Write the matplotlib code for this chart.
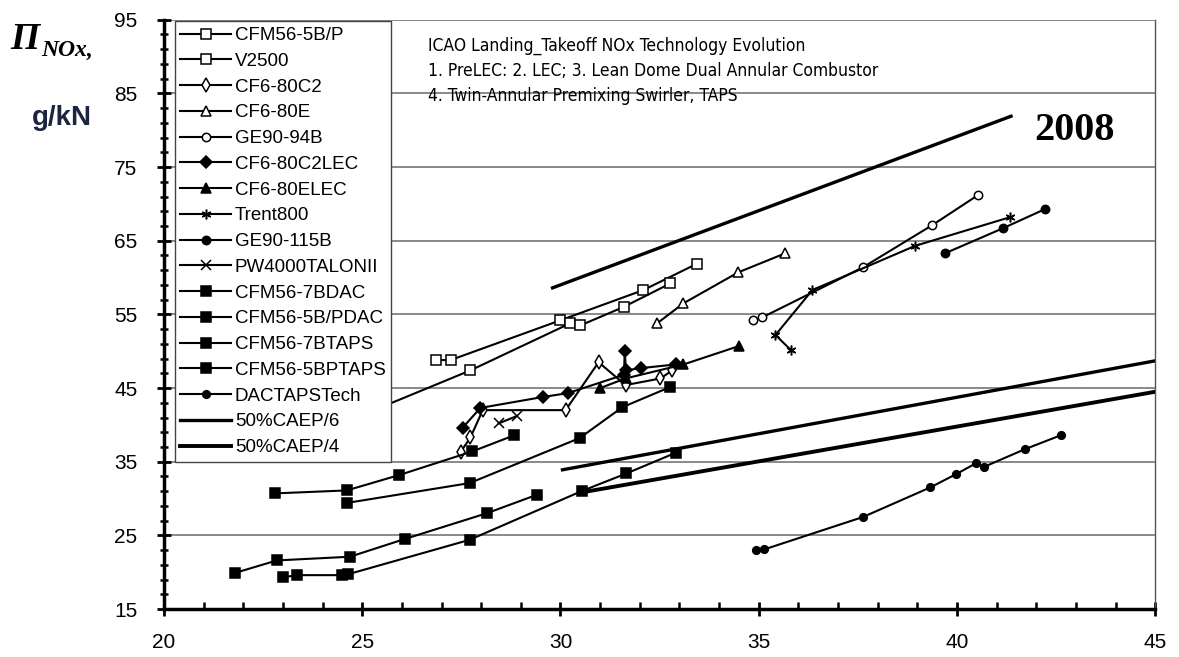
import numpy as np
import matplotlib
matplotlib.use("Agg")
import matplotlib.pyplot as plt
from matplotlib.ticker import MultipleLocator

# data (x: pressure ratio, y: NOx g/kN)
cfm565bp_x = [26.85, 27.23, 30.0, 32.09, 33.45]
cfm565bp_y = [48.8, 48.8, 54.2, 58.3, 61.9]
v2500_x = [25.3, 27.73, 30.25, 30.5, 31.59, 32.77]
v2500_y = [42.0, 47.4, 53.8, 53.5, 56.0, 59.2]
cf680c2_x = [27.48, 27.73, 28.04, 30.13, 30.96, 31.64, 32.52, 32.82]
cf680c2_y = [36.3, 38.3, 42.0, 42.0, 48.5, 45.4, 46.3, 47.4]
cf680e_x = [32.44, 33.1, 34.48, 35.67]
cf680e_y = [53.8, 56.5, 60.7, 63.3]
ge9094b_x = [34.86, 35.09, 37.63, 39.37, 40.53]
ge9094b_y = [54.2, 54.6, 61.4, 67.1, 71.2]
cf680c2lec_x = [27.53, 27.98, 29.57, 30.18, 31.6, 31.62, 31.65, 32.02, 32.9]
cf680c2lec_y = [39.6, 42.3, 43.8, 44.3, 46.8, 50.0, 47.4, 47.7, 48.2]
cf680elec_x = [31.0, 31.64, 33.1, 34.5]
cf680elec_y = [45.0, 46.3, 48.2, 50.7]
trent800_x = [35.82, 35.42, 36.35, 38.94, 41.34]
trent800_y = [50.1, 52.2, 58.3, 64.3, 68.2]
ge90115b_x = [39.7, 41.16, 42.22]
ge90115b_y = [63.3, 66.7, 69.3]
pw4000_x = [28.44, 28.9]
pw4000_y = [40.2, 41.2]
cfm567bdac_x = [22.8, 24.61, 25.94, 27.78, 28.84]
cfm567bdac_y = [30.7, 31.1, 33.2, 36.4, 38.6]
cfm565bpdac_x = [24.61, 27.71, 30.48, 31.56, 32.75]
cfm565bpdac_y = [29.4, 32.1, 38.2, 42.4, 45.1]
cfm567btaps_x = [21.79, 22.85, 24.69, 26.07, 28.14, 29.4]
cfm567btaps_y = [19.9, 21.6, 22.1, 24.5, 28.0, 30.5]
cfm565bptaps_x = [23.0, 23.35, 24.48, 24.63, 27.71, 30.53, 31.66, 32.9]
cfm565bptaps_y = [19.3, 19.6, 19.6, 19.7, 24.4, 31.0, 33.4, 36.2]
dactaps_x = [34.94, 35.14, 37.63, 39.32, 39.97, 40.48, 40.68, 41.71, 42.62]
dactaps_y = [23.0, 23.1, 27.5, 31.5, 33.3, 34.8, 34.3, 36.7, 38.6]
caep6_x = [30.05, 45.0]
caep6_y = [33.9, 48.7]
caep4_x = [30.5, 45.0]
caep4_y = [30.8, 44.5]
line2008_x = [29.8, 41.36]
line2008_y = [58.6, 81.9]

y_ticks = [15, 25, 35, 45, 55, 65, 75, 85, 95]

series = [
    ("CFM56-5B/P", cfm565bp_x, cfm565bp_y, "s", "white"),
    ("V2500", v2500_x, v2500_y, "s", "white"),
    ("CF6-80C2", cf680c2_x, cf680c2_y, "d", "white"),
    ("CF6-80E", cf680e_x, cf680e_y, "^", "white"),
    ("GE90-94B", ge9094b_x, ge9094b_y, "o", "white"),
    ("CF6-80C2LEC", cf680c2lec_x, cf680c2lec_y, "D", "black"),
    ("CF6-80ELEC", cf680elec_x, cf680elec_y, "^", "black"),
    ("Trent800", trent800_x, trent800_y, (6, 2, 0), "black"),
    ("GE90-115B", ge90115b_x, ge90115b_y, "o", "black"),
    ("PW4000TALONII", pw4000_x, pw4000_y, "x", "black"),
    ("CFM56-7BDAC", cfm567bdac_x, cfm567bdac_y, "s", "black"),
    ("CFM56-5B/PDAC", cfm565bpdac_x, cfm565bpdac_y, "s", "black"),
    ("CFM56-7BTAPS", cfm567btaps_x, cfm567btaps_y, "s", "black"),
    ("CFM56-5BPTAPS", cfm565bptaps_x, cfm565bptaps_y, "s", "black"),
    ("DACTAPSTech", dactaps_x, dactaps_y, "o", "black"),
]

fig = plt.figure(figsize=(11.79, 6.57), dpi=100)
ax = fig.add_axes([0.139, 0.073, 0.841, 0.897])

for name, xs, ys, mk, fc in series:
    ms = 6 if mk in ("o", "D") else 7
    if name == "DACTAPSTech":
        ms = 5.5
    ax.plot(xs, ys, color="black", lw=1.5, marker=mk, ms=ms,
            mfc=fc, mec="black", mew=1.1, label=name, zorder=3)

ax.plot(caep6_x, caep6_y, color="black", lw=2.4, label="50%CAEP/6", zorder=3)
ax.plot(caep4_x, caep4_y, color="black", lw=2.8, label="50%CAEP/4", zorder=3)
ax.plot(line2008_x, line2008_y, color="black", lw=2.4, zorder=3)

ax.set_xlim(20, 45)
ax.set_ylim(15, 95)
ax.xaxis.set_major_locator(MultipleLocator(5))
ax.xaxis.set_minor_locator(MultipleLocator(1))
ax.set_yticks(y_ticks)
ax.set_yticks([v for v in range(17, 95, 2) if v not in y_ticks], minor=True)
ax.grid(axis="y", which="major", color="#808080", lw=1.3)
ax.set_axisbelow(True)

ax.spines["top"].set_visible(False)
ax.spines["right"].set_linewidth(1.0)
ax.spines["right"].set_color("#555555")
ax.spines["left"].set_linewidth(2.5)
ax.spines["bottom"].set_linewidth(2.5)
ax.tick_params(which="major", direction="inout", length=10, width=2, labelsize=15)
ax.tick_params(which="minor", direction="in", length=5, width=1.8)
ax.tick_params(axis="y", which="minor", direction="inout", length=6)
ax.tick_params(right=False, which="both")
ax.tick_params(axis="x", which="major", pad=12)
ax.tick_params(axis="y", which="major", pad=14)
for lab in ax.get_xticklabels() + ax.get_yticklabels():
    lab.set_family("Liberation Sans")

leg = ax.legend(loc="upper left", bbox_to_anchor=(0.011, 0.997),
                frameon=True, fancybox=False, edgecolor="#444444", framealpha=1,
                handlelength=2.7, handletextpad=0.2, labelspacing=0.46,
                borderpad=0.3, borderaxespad=0,
                prop={"family": "Liberation Sans", "size": 13.5})
leg.get_frame().set_linewidth(1.0)
leg.set_zorder(5)

ax.text(26.65, 92.7, "ICAO Landing_Takeoff NOx Technology Evolution\n"
        "1. PreLEC: 2. LEC; 3. Lean Dome Dual Annular Combustor\n"
        "4. Twin-Annular Premixing Swirler, TAPS",
        fontsize=12.5, family="DejaVu Sans", fontstretch="condensed",
        va="top", ha="left", linespacing=1.52, zorder=6)

ax.text(42.95, 80.0, "2008", fontsize=29, fontweight="bold",
        family="Liberation Serif", ha="center", va="center", zorder=6)

fig.text(0.009, 0.925, "Π", fontsize=27, fontweight="bold", style="italic",
         family="Liberation Serif")
fig.text(0.035, 0.915, "NOx,", fontsize=17, fontweight="bold", style="italic",
         family="Liberation Serif")
fig.text(0.027, 0.81, "g/kN", fontsize=20, fontweight="bold",
         family="Liberation Sans", color="#1c2540")

fig.savefig("out.png", dpi=100)
